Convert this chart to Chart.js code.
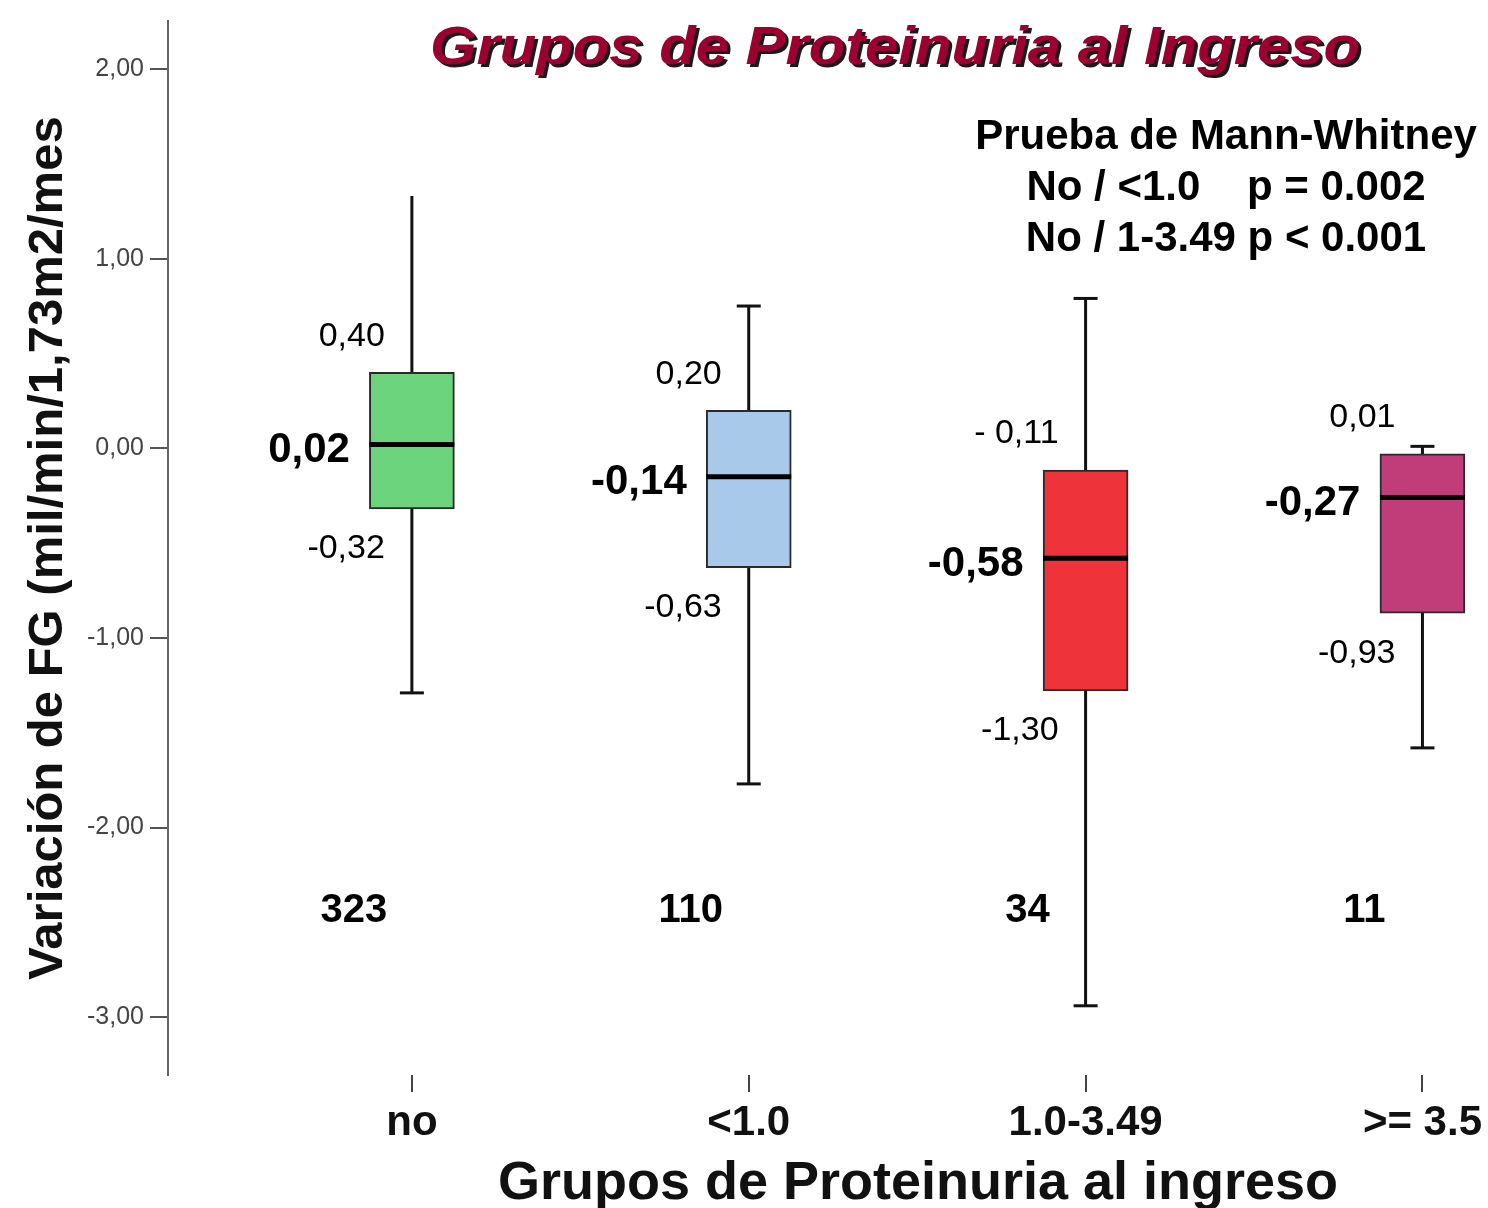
<!DOCTYPE html>
<html>
<head>
<meta charset="utf-8">
<script src="https://cdn.jsdelivr.net/npm/chart.js@4.4.0/dist/chart.umd.min.js"></script>
<style>
  html, body { margin: 0; padding: 0; background: #ffffff; }
  #wrap { position: relative; width: 1488px; height: 1208px; }
  canvas { display: block; }
</style>
</head>
<body>
<div id="wrap"><canvas id="c" width="1488" height="1208"></canvas></div>
<script>
// ---- data ----
const categories   = ['no', '<1.0', '1.0-3.49', '>= 3.5'];
const whiskerLow   = [-1.29, -1.77, -2.94, -1.58];
const quartile1    = [-0.32, -0.63, -1.28, -0.87];
const medians      = [0.02, -0.15, -0.58, -0.26];
const quartile3    = [0.40, 0.20, -0.115, -0.03];
const whiskerHigh  = [1.33, 0.75, 0.79, 0.01];
const countLabels  = ['323', '110', '34', '11'];
const q3Labels     = ['0,40', '0,20', '- 0,11', '0,01'];
const q1Labels     = ['-0,32', '-0,63', '-1,30', '-0,93'];
const medianLabels = ['0,02', '-0,14', '-0,58', '-0,27'];
const yTicks       = [-3, -2, -1, 0, 1, 2];
const chartTitle   = 'Grupos de Proteinuria al Ingreso';
const xTitle       = 'Grupos de Proteinuria al ingreso';
const yTitle       = 'Variación de FG (mil/min/1,73m2/mes';
const testLines    = ['Prueba de Mann-Whitney', 'No / <1.0    p = 0.002', 'No / 1-3.49 p < 0.001'];

// ---- styles ----
const boxColors = ['#6bd47c', '#a9c9ea', '#ee333a', '#c13d7a'];
const topCap    = [false, true, true, true];
const FONT = "'Liberation Sans', Arial, sans-serif";

const boxData = categories.map((c, i) => ({ x: i, y: [quartile1[i], quartile3[i]] }));

const boxPlugin = {
  id: 'boxParts',
  beforeDatasetsDraw(chart) {
    const { ctx, scales: { x, y } } = chart;
    ctx.save();
    ctx.strokeStyle = '#111';
    ctx.lineWidth = 3;
    ctx.lineCap = 'butt';
    categories.forEach((c, i) => {
      const px = x.getPixelForValue(i);
      ctx.beginPath();
      ctx.moveTo(px, y.getPixelForValue(whiskerHigh[i]));
      ctx.lineTo(px, y.getPixelForValue(whiskerLow[i]));
      ctx.stroke();
      const capHalf = 12;
      if (topCap[i]) {
        ctx.beginPath();
        const ty = y.getPixelForValue(whiskerHigh[i]);
        ctx.moveTo(px - capHalf, ty); ctx.lineTo(px + capHalf, ty); ctx.stroke();
      }
      ctx.beginPath();
      const by = y.getPixelForValue(whiskerLow[i]);
      ctx.moveTo(px - capHalf, by); ctx.lineTo(px + capHalf, by); ctx.stroke();
    });
    ctx.restore();
  },
  afterDatasetsDraw(chart) {
    const { ctx, scales: { x, y } } = chart;
    ctx.save();
    const meta = chart.getDatasetMeta(0);
    categories.forEach((c, i) => {
      const bar = meta.data[i];
      const half = bar.width / 2;
      const px = x.getPixelForValue(i);
      const my = y.getPixelForValue(medians[i]);
      ctx.strokeStyle = '#000';
      ctx.lineWidth = 5;
      ctx.beginPath();
      ctx.moveTo(px - half, my); ctx.lineTo(px + half, my); ctx.stroke();

      ctx.fillStyle = '#000';
      ctx.font = '34px ' + FONT;
      ctx.textAlign = 'right';
      ctx.textBaseline = 'middle';
      ctx.fillText(q3Labels[i], px - 27, y.getPixelForValue(quartile3[i]) - 36);
      ctx.fillText(q1Labels[i], px - 27, y.getPixelForValue(quartile1[i]) + 40);
      ctx.font = 'bold 42px ' + FONT;
      ctx.fillText(medianLabels[i], px - 62, my + 6);
      ctx.textAlign = 'center';
      ctx.font = 'bold 40px ' + FONT;
      ctx.fillText(countLabels[i], px - 58, y.getPixelForValue(-2.44));
    });
    ctx.restore();
  },
  afterDraw(chart) {
    const { ctx } = chart;
    ctx.save();
    ctx.font = 'italic bold 54px ' + FONT;
    ctx.textAlign = 'left';
    ctx.textBaseline = 'alphabetic';
    const w = ctx.measureText(chartTitle).width;
    const sx = 930 / w;
    ctx.translate(430, 64);
    ctx.scale(sx, 1);
    ctx.fillStyle = '#1a1a1a';
    ctx.fillText(chartTitle, 3, 3);
    ctx.fillStyle = '#9b0030';
    ctx.fillText(chartTitle, 0, 0);
    ctx.restore();

    ctx.save();
    ctx.fillStyle = '#000';
    ctx.font = 'bold 42px ' + FONT;
    ctx.textAlign = 'center';
    ctx.textBaseline = 'middle';
    testLines.forEach((t, k) => ctx.fillText(t, 1226, 137 + k * 51));
    ctx.font = 'bold 54px ' + FONT;
    ctx.textBaseline = 'alphabetic';
    ctx.fillStyle = '#111';
    ctx.fillText(xTitle, 918, 1199);
    ctx.restore();
  }
};

new Chart(document.getElementById('c'), {
  type: 'bar',
  data: {
    datasets: [{
      data: boxData,
      backgroundColor: boxColors,
      borderColor: '#2a2a2a',
      borderWidth: 2,
      borderSkipped: false,
      barThickness: 85
    }]
  },
  options: {
    responsive: false,
    animation: false,
    events: [],
    layout: { padding: { top: 9, right: 0, left: 0, bottom: 0 } },
    plugins: { legend: { display: false }, tooltip: { enabled: false }, title: { display: false } },
    scales: {
      x: {
        type: 'linear',
        offset: false,
        min: -0.724,
        max: 3.193,
        afterBuildTicks(scale) { scale.ticks = categories.map((c, i) => ({ value: i })); },
        afterFit(scale) { scale.height = 133; },
        border: { display: false },
        grid: { offset: false, drawOnChartArea: false, tickLength: 17, color: '#444', lineWidth: 2 },
        ticks: {
          callback: (v) => categories[v],
          font: { family: FONT, size: 42, weight: 'bold' },
          color: '#111',
          padding: 6,
          maxRotation: 0,
          autoSkip: false
        }
      },
      y: {
        min: -3.305,
        max: 2.253,
        afterBuildTicks(scale) { scale.ticks = yTicks.map(v => ({ value: v })); },
        afterFit(scale) { scale.width = 168; },
        border: { display: true, color: '#666', width: 2 },
        grid: { drawOnChartArea: false, tickLength: 18, color: '#555', lineWidth: 2 },
        ticks: {
          callback: (v) => v.toFixed(2).replace('.', ','),
          font: { family: FONT, size: 25 },
          color: '#444',
          padding: 6
        },
        title: {
          display: true,
          text: yTitle,
          font: { family: FONT, size: 49, weight: 'bold' },
          color: '#111',
          padding: { top: 19, bottom: 0 }
        }
      }
    }
  },
  plugins: [boxPlugin]
});
</script>
</body>
</html>
